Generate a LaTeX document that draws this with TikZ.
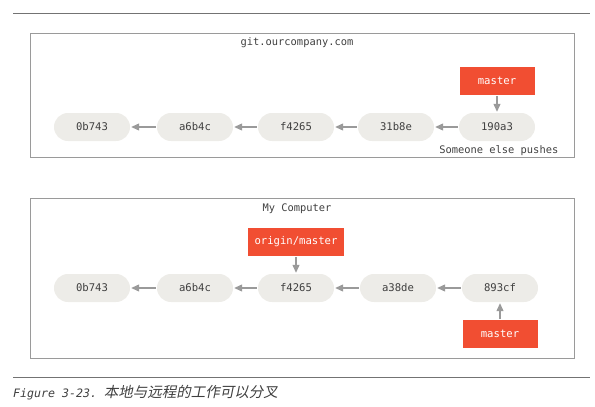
\documentclass[tikz,border=0pt]{standalone}
\usepackage{fontspec}
\setmonofont{DejaVu Sans Mono}
\newfontfamily\cjk[FakeSlant=0.2]{Noto Sans CJK SC}
\usetikzlibrary{arrows.meta,positioning}
\definecolor{gitred}{HTML}{F14E32}
\definecolor{commitbg}{HTML}{EDECE8}
\definecolor{linegray}{HTML}{9A9A9A}
\definecolor{textgray}{HTML}{3F3F3F}
\tikzset{
  commit/.style ={rounded corners=13.9pt,fill=commitbg,minimum width=76pt,
                  minimum height=28pt,inner sep=0pt,text=textgray,
                  font=\ttfamily\fontsize{10.6}{12}\selectfont},
  branch/.style ={fill=gitred,text=white,minimum width=75pt,minimum height=28pt,
                  inner xsep=7pt,inner ysep=0pt,
                  font=\ttfamily\fontsize{10.6}{12}\selectfont},
  ed/.style     ={->,draw=linegray,line width=1.1pt,shorten >=1pt,shorten <=1pt},
  frame/.style  ={draw=linegray,line width=0.8pt},
  rule/.style   ={draw=black!55,line width=0.8pt},
  ann/.style    ={text=textgray,inner sep=0pt,
                  font=\ttfamily\fontsize{10.4}{12}\selectfont},
}

\begin{document}
\begin{tikzpicture}[
  >={Triangle[length=8pt,width=7pt]},
  x=1pt, y=-1pt,
]
\useasboundingbox (0,0) rectangle (595,407);

\draw[rule] (13,13) -- (590,13);

%% remote repository
\draw[frame] (30,33) rectangle (574,157);
\node[ann] (srv) at (297,43) {git.ourcompany.com};

\node[commit] (r1) at (92,127)  {0b743};
\node[commit] (r2) at (195,127) {a6b4c};
\node[commit] (r3) at (296,127) {f4265};
\node[commit] (r4) at (396,127) {31b8e};
\node[commit] (r5) at (497,127) {190a3};
\node[branch] (rmaster) at (497,81) {master};
\node[ann,anchor=east] (push) at (558.5,151) {Someone else pushes};

\draw[ed] (r2) -- (r1);
\draw[ed] (r3) -- (r2);
\draw[ed] (r4) -- (r3);
\draw[ed] (r5) -- (r4);
\draw[ed] (rmaster) -- (r5);

%% local repository
\draw[frame] (30,198) rectangle (574,358);
\node[ann] (pc) at (297,209) {My Computer};

\node[commit] (l1) at (92,288)  {0b743};
\node[commit] (l2) at (195,288) {a6b4c};
\node[commit] (l3) at (296,288) {f4265};
\node[commit] (l4) at (398,288) {a38de};
\node[commit] (l5) at (500,288) {893cf};
\node[branch] (origin) at (296,242) {origin/master};
\node[branch] (lmaster) at (500,334) {master};

\draw[ed] (l2) -- (l1);
\draw[ed] (l3) -- (l2);
\draw[ed] (l4) -- (l3);
\draw[ed] (l5) -- (l4);
\draw[ed] (origin) -- (l3);
\draw[ed] (lmaster) -- (l5);

\draw[rule] (13,377) -- (590,377);
\node[anchor=west,inner sep=0pt,text=textgray] (cap) at (13,393)
  {\ttfamily\itshape\fontsize{11.6}{13}\selectfont Figure 3-23.\ %
   \cjk\fontsize{14.5}{16}\selectfont 本地与远程的工作可以分叉};

\end{tikzpicture}
\end{document}
